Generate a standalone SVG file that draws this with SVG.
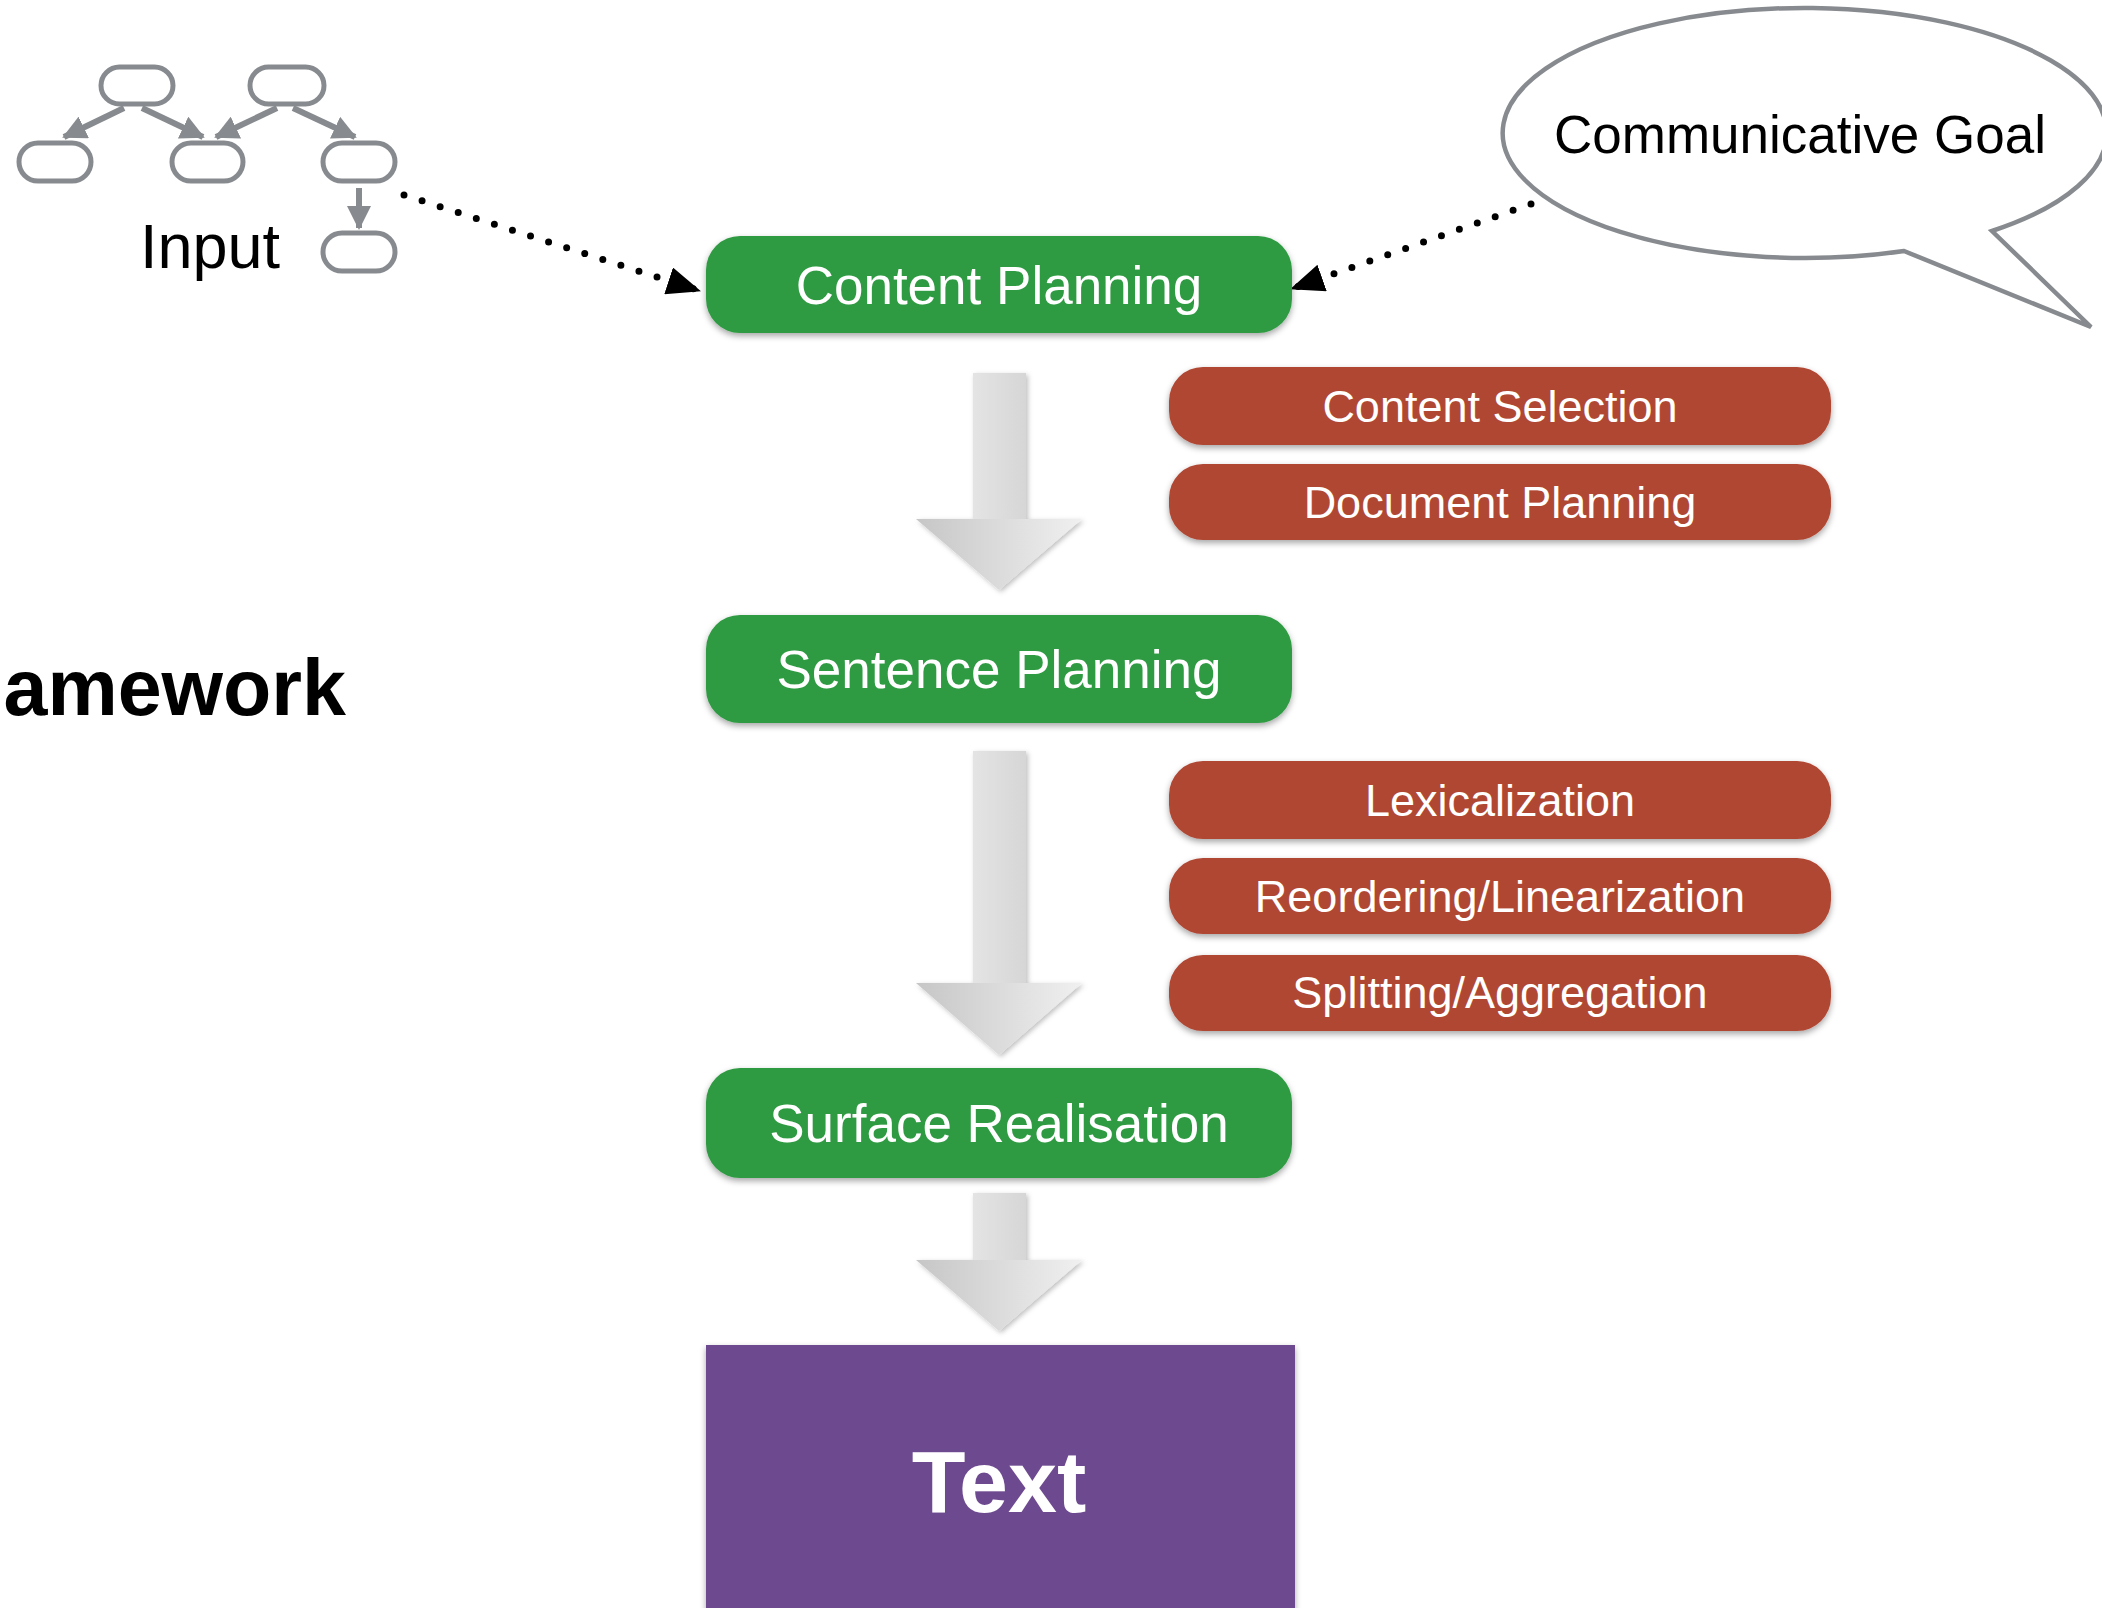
<svg xmlns="http://www.w3.org/2000/svg" width="2102" height="1608" viewBox="0 0 2102 1608">
<defs>
<style>
.lbl{font-family:"Liberation Sans",Arial,sans-serif;fill:#fff;text-anchor:middle}
.green{fill:#2f9a43}
.red{fill:#b04633}
.inode{fill:#fff;stroke:#878b8f;stroke-width:5}
.iedge{stroke:#878b8f;stroke-width:6;fill:none}
.dots{stroke:#000;stroke-width:7;stroke-linecap:round;stroke-dasharray:0 19;fill:none}
</style>
<filter id="sh" x="-10%" y="-20%" width="120%" height="150%">
<feDropShadow dx="0" dy="3" stdDeviation="3" flood-color="#000" flood-opacity="0.35"/>
</filter>
<filter id="ash" x="-20%" y="-20%" width="140%" height="140%">
<feDropShadow dx="2" dy="2" stdDeviation="2.5" flood-color="#000" flood-opacity="0.25"/>
</filter>
<linearGradient id="shaft" x1="0" y1="0" x2="1" y2="0">
<stop offset="0" stop-color="#e4e4e4"/>
<stop offset="1" stop-color="#d6d6d6"/>
</linearGradient>
<linearGradient id="head" x1="0" y1="0" x2="1" y2="0">
<stop offset="0" stop-color="#c6c6c6"/>
<stop offset="1" stop-color="#f0f0f0"/>
</linearGradient>
<marker id="ga" viewBox="0 0 24 24" refX="22" refY="12" markerWidth="24" markerHeight="24" markerUnits="userSpaceOnUse" orient="auto">
<path d="M0,0 L24,12 L0,24 Z" fill="#878b8f"/>
</marker>
<marker id="ba" viewBox="0 0 34 28" refX="33" refY="14" markerWidth="34" markerHeight="28" markerUnits="userSpaceOnUse" orient="auto">
<path d="M0,0 L34,14 L0,28 Z" fill="#000"/>
</marker>
</defs>
<rect width="2102" height="1608" fill="#fff"/>

<g id="input">
<rect class="inode" x="101" y="67" width="72" height="37" rx="18.5"/>
<rect class="inode" x="250" y="67" width="74" height="37" rx="18.5"/>
<rect class="inode" x="19" y="143" width="72" height="38" rx="19"/>
<rect class="inode" x="172" y="143" width="71" height="38" rx="19"/>
<rect class="inode" x="323" y="143" width="72" height="38" rx="19"/>
<rect class="inode" x="323" y="233" width="72" height="38" rx="19"/>
<line class="iedge" x1="124" y1="108" x2="64" y2="137" marker-end="url(#ga)"/>
<line class="iedge" x1="142" y1="108" x2="203" y2="137" marker-end="url(#ga)"/>
<line class="iedge" x1="277" y1="108" x2="216" y2="137" marker-end="url(#ga)"/>
<line class="iedge" x1="293" y1="108" x2="355" y2="137" marker-end="url(#ga)"/>
<line class="iedge" x1="359" y1="188" x2="359" y2="228" marker-end="url(#ga)"/>
<text x="140" y="268" font-family="Liberation Sans,Arial,sans-serif" font-size="63" fill="#000">Input</text>
</g>

<g id="goal">
<path d="M1992,231 A302,125 0 1 0 1904,251 L2091,327 Z" fill="#fff" stroke="#878b8f" stroke-width="4.5" stroke-linejoin="miter"/>
<text x="1800" y="153" font-family="Liberation Sans,Arial,sans-serif" font-size="53" fill="#000" text-anchor="middle">Communicative Goal</text>
</g>

<g id="title">
<text x="346" y="715" font-family="Liberation Sans,Arial,sans-serif" font-size="79" font-weight="bold" fill="#000" text-anchor="end">amework</text>
</g>

<g id="connectors">
<line class="dots" x1="404" y1="195" x2="700" y2="291" marker-end="url(#ba)"/>
<line class="dots" x1="1531" y1="204" x2="1291" y2="289" marker-end="url(#ba)"/>
<g filter="url(#ash)">
<rect x="973" y="373" width="53" height="147" fill="url(#shaft)"/>
<path d="M916,519 L1082,519 L999,590 Z" fill="url(#head)"/>
</g>
<g filter="url(#ash)">
<rect x="973" y="751" width="53" height="233" fill="url(#shaft)"/>
<path d="M916,983 L1082,983 L999,1055 Z" fill="url(#head)"/>
</g>
<g filter="url(#ash)">
<rect x="973" y="1193" width="53" height="68" fill="url(#shaft)"/>
<path d="M916,1260 L1082,1260 L999,1331 Z" fill="url(#head)"/>
</g>
</g>

<g id="content-planning">
<rect class="green" x="706" y="236" width="586" height="97" rx="34" filter="url(#sh)"/>
<text class="lbl" x="999" y="304" font-size="53">Content Planning</text>
</g>
<g id="sentence-planning">
<rect class="green" x="706" y="615" width="586" height="108" rx="34" filter="url(#sh)"/>
<text class="lbl" x="999" y="688" font-size="53">Sentence Planning</text>
</g>
<g id="surface-realisation">
<rect class="green" x="706" y="1068" width="586" height="110" rx="34" filter="url(#sh)"/>
<text class="lbl" x="999" y="1142" font-size="53">Surface Realisation</text>
</g>
<g id="text-output">
<rect x="706" y="1345" width="589" height="270" fill="#6d4a8f" filter="url(#sh)"/>
<text x="999" y="1512" font-family="Liberation Sans,Arial,sans-serif" font-size="88" font-weight="bold" fill="#fff" text-anchor="middle">Text</text>
</g>

<g id="content-selection">
<rect class="red" x="1169" y="367" width="662" height="78" rx="34" filter="url(#sh)"/>
<text class="lbl" x="1500" y="422" font-size="45">Content Selection</text>
</g>
<g id="document-planning">
<rect class="red" x="1169" y="464" width="662" height="76" rx="34" filter="url(#sh)"/>
<text class="lbl" x="1500" y="518" font-size="45">Document Planning</text>
</g>
<g id="lexicalization">
<rect class="red" x="1169" y="761" width="662" height="78" rx="34" filter="url(#sh)"/>
<text class="lbl" x="1500" y="816" font-size="45">Lexicalization</text>
</g>
<g id="reordering">
<rect class="red" x="1169" y="858" width="662" height="76" rx="34" filter="url(#sh)"/>
<text class="lbl" x="1500" y="912" font-size="45">Reordering/Linearization</text>
</g>
<g id="splitting">
<rect class="red" x="1169" y="955" width="662" height="76" rx="34" filter="url(#sh)"/>
<text class="lbl" x="1500" y="1008" font-size="45">Splitting/Aggregation</text>
</g>
</svg>
